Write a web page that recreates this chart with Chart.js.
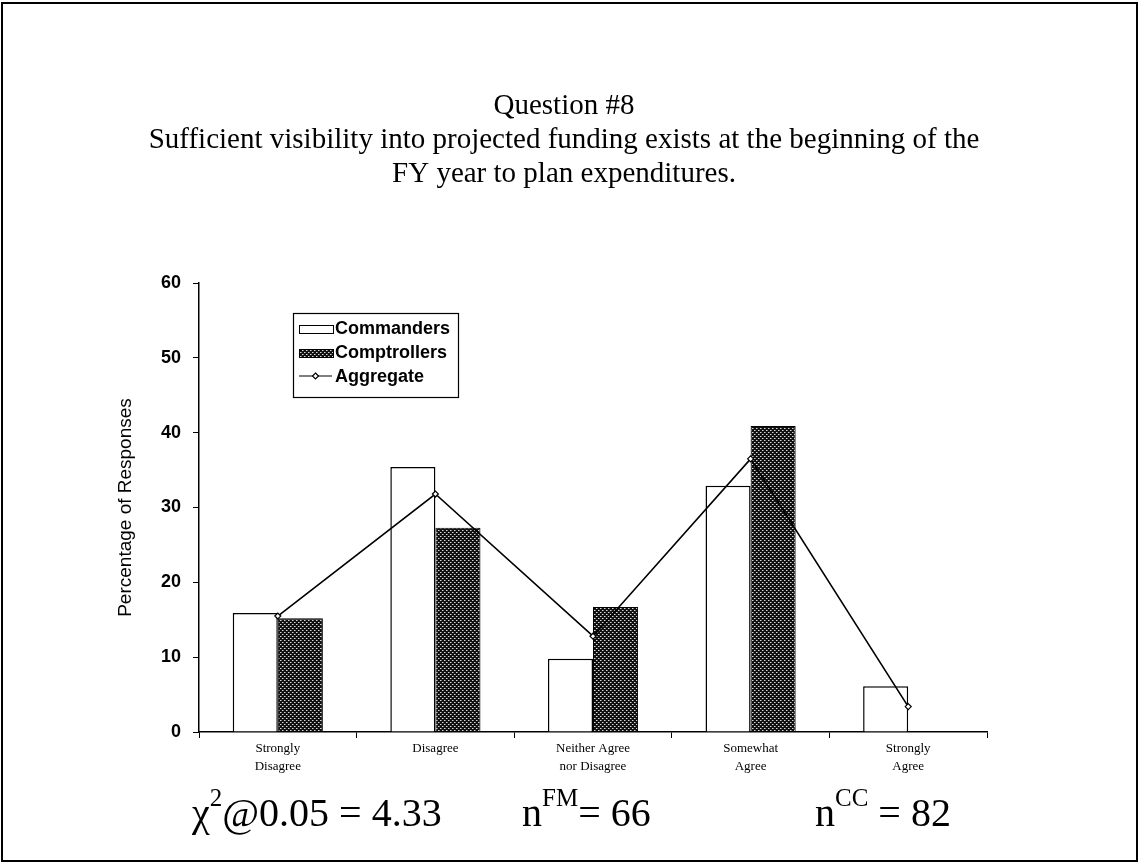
<!DOCTYPE html>
<html>
<head>
<meta charset="utf-8">
<script src="https://cdn.jsdelivr.net/npm/chart.js@4.4.1/dist/chart.umd.min.js"></script>
<style>
  html, body { margin: 0; padding: 0; background: #fff; }
  #wrap { width: 1140px; height: 867px; position: relative; }
</style>
</head>
<body>
<div id="wrap"><canvas id="c" width="1140" height="867"></canvas></div>
<script>
// Survey responses, percent of each group
const categories = [["Strongly", "Disagree"], ["Disagree"], ["Neither Agree", "nor Disagree"], ["Somewhat", "Agree"], ["Strongly", "Agree"]];
const commanders = [15.9, 35.4, 9.8, 32.9, 6.1];
const comptrollers = [15.2, 27.3, 16.7, 40.9, 0];
const aggregate = [15.5, 31.8, 12.8, 36.5, 3.4];
const seriesNames = ["Commanders", "Comptrollers", "Aggregate"];
const yTicks = [0, 10, 20, 30, 40, 50, 60];
const yTitle = "Percentage of Responses";
const titleLines = [
  "Question #8",
  "Sufficient visibility into projected funding exists at the beginning of the",
  "FY year to plan expenditures."
];
// statistic footnotes: [base, superscript, rest]
const footnotes = [
  ["\u03C7", "2", "@0.05 = 4.33"],
  ["n", "FM", "= 66"],
  ["n", "CC", " = 82"]
];

const SERIF = '"Liberation Serif", "Times New Roman", serif';
const SANS = '"Liberation Sans", Arial, sans-serif';

// dotted dark fill for the second series
function makeDotPattern() {
  const t = document.createElement('canvas');
  t.width = 4; t.height = 4;
  const g = t.getContext('2d');
  g.fillStyle = '#111';
  g.fillRect(0, 0, 4, 4);
  g.fillStyle = '#d8d8d8';
  g.fillRect(0, 0, 1, 1);
  g.fillRect(2, 2, 1, 1);
  g.fillStyle = '#777';
  g.fillRect(1, 0, 1, 1);
  g.fillRect(3, 2, 1, 1);
  return t.getContext('2d').createPattern(t, 'repeat');
}
const dotPattern = makeDotPattern();

// page decorations: frame, headline, footnote statistics
const decorations = {
  id: 'decorations',
  afterDraw(chart) {
    const ctx = chart.ctx;
    ctx.save();
    ctx.strokeStyle = '#000';
    ctx.lineWidth = 2;
    ctx.strokeRect(2, 3, 1135, 858);

    ctx.fillStyle = '#000';
    ctx.textAlign = 'center';
    ctx.textBaseline = 'alphabetic';
    ctx.font = '29px ' + SERIF;
    const baselines = [114, 148, 182];
    titleLines.forEach((t, i) => ctx.fillText(t, 564, baselines[i]));

    const starts = [192, 522, 815];
    ctx.textAlign = 'left';
    footnotes.forEach((f, i) => {
      let x = starts[i];
      ctx.font = '40px ' + SERIF;
      ctx.fillText(f[0], x, 826);
      x += ctx.measureText(f[0]).width;
      ctx.font = '25px ' + SERIF;
      ctx.fillText(f[1], x, 806);
      x += ctx.measureText(f[1]).width;
      ctx.font = '40px ' + SERIF;
      ctx.fillText(f[2], x, 826);
    });
    ctx.restore();
  }
};

// boxed legend inside the plot area
const boxLegend = {
  id: 'boxLegend',
  afterDraw(chart) {
    const ctx = chart.ctx;
    const ds = chart.data.datasets;
    const x0 = 293, y0 = 313, w = 165, h = 84;
    ctx.save();
    ctx.fillStyle = '#fff';
    ctx.fillRect(x0, y0, w, h);
    ctx.strokeStyle = '#000';
    ctx.lineWidth = 1.2;
    ctx.strokeRect(x0 + 0.5, y0 + 0.5, w, h);
    ctx.font = 'bold 18px ' + SANS;
    ctx.textBaseline = 'middle';
    ctx.textAlign = 'left';
    const rows = [328, 352, 376];
    ds.forEach((d, i) => {
      const cy = rows[i];
      if (d.type === 'line') {
        ctx.strokeStyle = '#000';
        ctx.lineWidth = 1.2;
        ctx.beginPath();
        ctx.moveTo(299, cy); ctx.lineTo(332, cy);
        ctx.stroke();
        ctx.beginPath();
        ctx.moveTo(315.5, cy - 3); ctx.lineTo(318.5, cy); ctx.lineTo(315.5, cy + 3); ctx.lineTo(312.5, cy);
        ctx.closePath();
        ctx.fillStyle = '#fff';
        ctx.fill();
        ctx.stroke();
      } else {
        ctx.fillStyle = d.backgroundColor;
        ctx.fillRect(299, cy - 3, 34, 8);
        ctx.strokeStyle = '#000';
        ctx.lineWidth = 1;
        ctx.strokeRect(299.5, cy - 2.5, 34, 8);
      }
      ctx.fillStyle = '#000';
      ctx.fillText(d.label, 335, cy + 1);
    });
    ctx.restore();
  }
};

new Chart(document.getElementById('c'), {
  type: 'bar',
  data: {
    labels: categories,
    datasets: [
      {
        label: seriesNames[0],
        data: commanders,
        backgroundColor: '#fff',
        borderColor: '#000',
        borderWidth: 1.5,
        categoryPercentage: 0.572,
        barPercentage: 1.0,
        order: 1
      },
      {
        label: seriesNames[1],
        data: comptrollers,
        backgroundColor: dotPattern,
        borderColor: '#000',
        borderWidth: 1,
        categoryPercentage: 0.572,
        barPercentage: 1.0,
        order: 1
      },
      {
        type: 'line',
        label: seriesNames[2],
        data: aggregate,
        borderColor: '#000',
        borderWidth: 1.6,
        tension: 0,
        pointStyle: 'rectRot',
        pointRadius: 3,
        pointBackgroundColor: '#fff',
        pointBorderColor: '#000',
        pointBorderWidth: 1.2,
        order: 0
      }
    ]
  },
  options: {
    responsive: false,
    animation: false,
    events: [],
    layout: { padding: { left: 107, top: 283, right: 153, bottom: 0 } },
    plugins: {
      legend: { display: false },
      title: { display: false },
      tooltip: { enabled: false }
    },
    scales: {
      x: {
        afterFit(s) { s.height = 135; },
        grid: { display: true, drawOnChartArea: false, offset: true, tickLength: 6, color: '#000', lineWidth: 1 },
        border: { display: true, color: '#000', width: 1.5 },
        ticks: {
          color: '#000',
          padding: 2,
          maxRotation: 0,
          autoSkip: false,
          font: { family: SERIF, size: 13, lineHeight: 1.35 }
        }
      },
      y: {
        min: 0,
        max: 60,
        afterFit(s) { s.width = 92; },
        afterBuildTicks(s) { s.ticks = yTicks.map(v => ({ value: v })); },
        grid: { display: true, drawOnChartArea: false, tickLength: 6, color: '#000', lineWidth: 1 },
        border: { display: true, color: '#000', width: 1.5 },
        ticks: {
          color: '#000',
          padding: 12,
          font: { family: SANS, size: 18, weight: 'bold' }
        },
        title: {
          display: true,
          text: yTitle,
          color: '#000',
          padding: { top: 7, bottom: 0 },
          font: { family: SANS, size: 19 }
        }
      }
    }
  },
  plugins: [decorations, boxLegend]
});
</script>
</body>
</html>
